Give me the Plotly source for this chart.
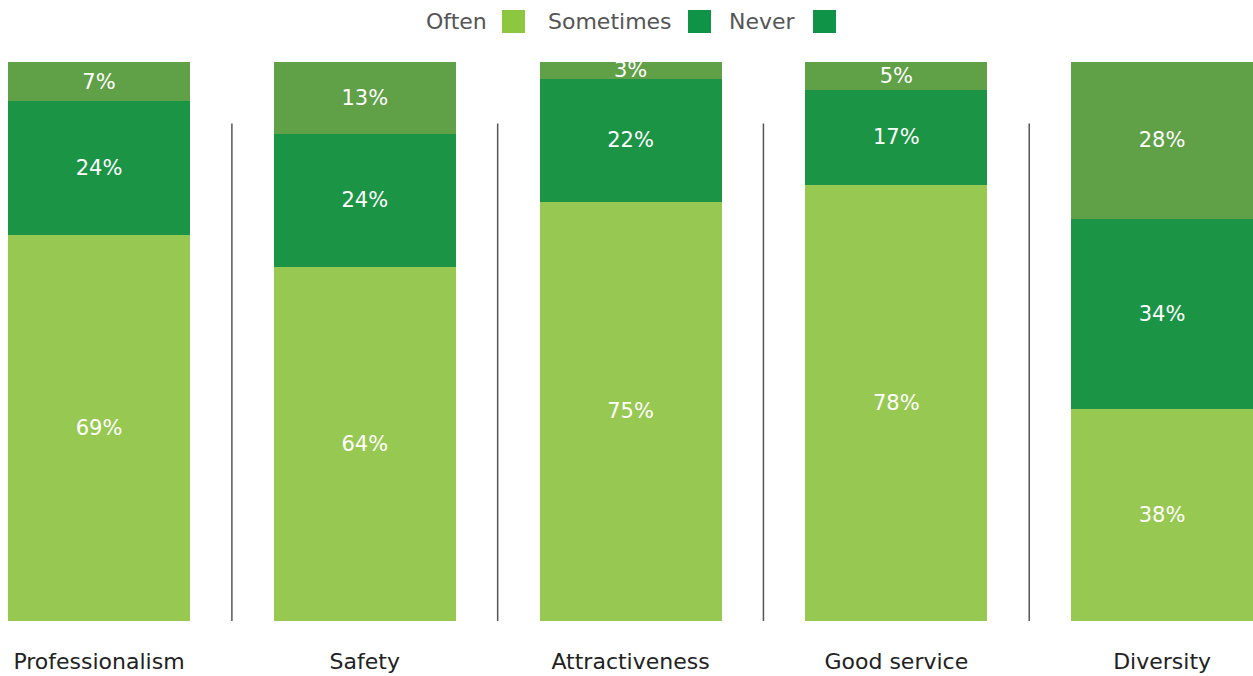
import plotly.graph_objects as go

# Survey results: share of respondents per answer, by attribute
categories = ["Professionalism", "Safety", "Attractiveness", "Good service", "Diversity"]
often = [69, 64, 75, 78, 38]
sometimes = [24, 24, 22, 17, 34]
never = [7, 13, 3, 5, 28]

series_names = ["Often", "Sometimes", "Never"]
bar_colors = ["#97C952", "#1B9545", "#60A147"]
swatch_colors = ["#8DC63F", "#0E9347", "#0E9347"]

W, H = 1253, 676
MT, MB = 62, 55
plot_h = H - MT - MB

font_family = "'DejaVu Sans', sans-serif"

fig = go.Figure()
for name, vals, col in zip(series_names, [often, sometimes, never], bar_colors):
    fig.add_trace(go.Bar(
        x=categories,
        y=vals,
        name=name,
        marker=dict(color=col, line=dict(width=0)),
        width=0.685,
        text=[str(v) for v in vals],
        texttemplate="%{text}%",
        textposition="inside",
        insidetextanchor="middle",
        constraintext="none",
        textangle=0,
        textfont=dict(color="white", size=21, family=font_family),
        showlegend=False,
        hoverinfo="skip",
    ))

# thin separators between the columns
for i in range(len(categories) - 1):
    fig.add_shape(
        type="line", xref="x", yref="y",
        x0=i + 0.5, x1=i + 0.5, y0=0, y1=89,
        line=dict(color="#555555", width=1.5),
        layer="below",
    )

# legend: label followed by its colour swatch
def px_x(p):
    return p / W

def px_y(p):
    return (H - MB - p) / plot_h

legend_items = [
    ("Often", 489, 502),
    ("Sometimes", 674, 688),
    ("Never", 798, 813),
]
for (label, text_right, sw_left), col in zip(legend_items, swatch_colors):
    fig.add_annotation(
        text=label, xref="paper", yref="paper",
        x=px_x(text_right), y=px_y(21),
        xanchor="right", yanchor="middle", showarrow=False,
        font=dict(size=22, color="#555555", family=font_family),
    )
    fig.add_shape(
        type="rect", xref="paper", yref="paper",
        x0=px_x(sw_left), x1=px_x(sw_left + 23),
        y0=px_y(33), y1=px_y(10),
        fillcolor=col, line=dict(width=0),
    )

fig.update_layout(
    width=W, height=H,
    barmode="stack",
    barnorm="percent",
    plot_bgcolor="white",
    paper_bgcolor="white",
    margin=dict(l=0, r=0, t=MT, b=MB, pad=0),
    uniformtext=dict(mode=False),
    font=dict(family=font_family),
)
fig.update_xaxes(
    type="category",
    range=[-0.3725, 4.342],
    showgrid=False, zeroline=False, showline=False,
    ticks="",
    tickfont=dict(size=22, color="#222222", family=font_family),
    ticklabelstandoff=25,
)
fig.update_yaxes(
    range=[0, 100],
    showgrid=False, zeroline=False, showline=False,
    showticklabels=False, ticks="",
)

fig.write_html("out.html")
